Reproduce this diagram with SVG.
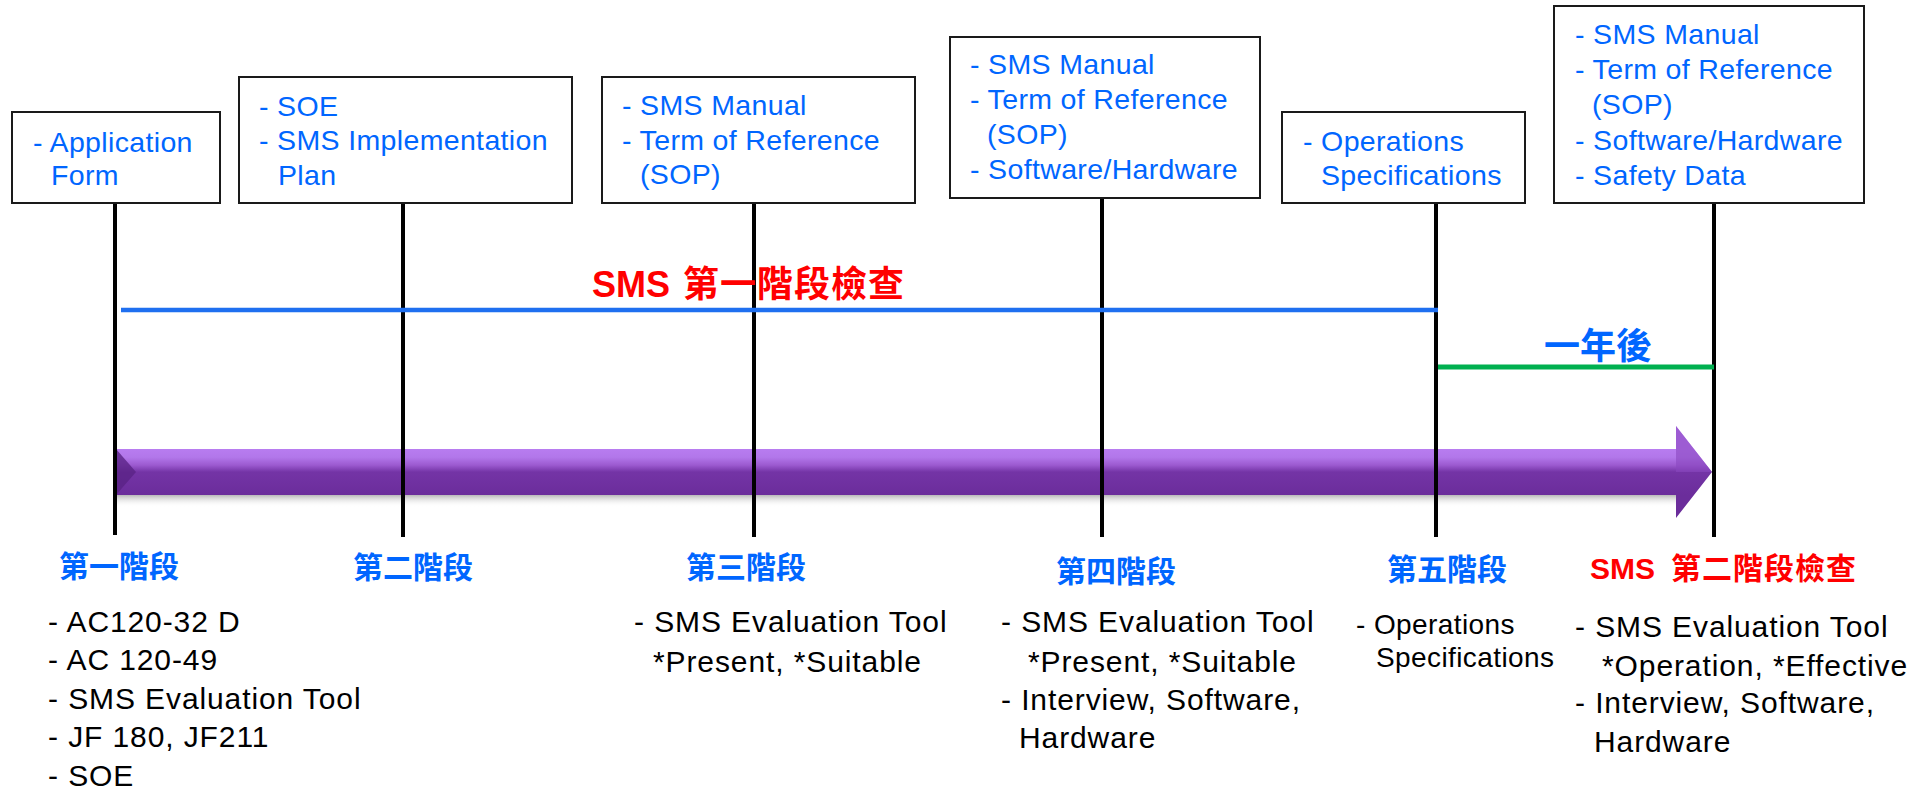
<svg xmlns="http://www.w3.org/2000/svg" width="1916" height="791" viewBox="0 0 1916 791">
<defs>
<style>
.box{fill:#fff;stroke:#1a1a1a;stroke-width:2}
.bt{font-family:"Liberation Sans",Arial,sans-serif;font-size:28.5px;letter-spacing:0.35px;fill:#0066ff}
.dt{font-family:"Liberation Sans",Arial,sans-serif;font-size:30px;letter-spacing:0.9px;fill:#000}
.dt.small{font-size:28px;letter-spacing:0.4px}
.st{font-family:"Noto Sans CJK TC","Noto Sans CJK SC",sans-serif;font-weight:bold;font-size:30px;fill:#0066ff}
.red{fill:#ff0000}
.sms{font-family:"Liberation Sans",Arial,sans-serif;font-weight:bold}
.cjk{font-family:"Noto Sans CJK TC","Noto Sans CJK SC",sans-serif;font-weight:bold}
.vl{stroke:#000;stroke-width:4;fill:none}
</style>
<linearGradient id="pg" gradientUnits="userSpaceOnUse" x1="0" y1="449" x2="0" y2="495">
<stop offset="0" stop-color="#b87cf0"/>
<stop offset="0.18" stop-color="#b277ea"/>
<stop offset="0.35" stop-color="#9c5ad0"/>
<stop offset="0.5" stop-color="#7434a6"/>
<stop offset="1" stop-color="#6b2d9b"/>
</linearGradient>
<linearGradient id="sh" x1="0" y1="0" x2="0" y2="1">
<stop offset="0" stop-color="#9a9a9a" stop-opacity="0.7"/>
<stop offset="1" stop-color="#ffffff" stop-opacity="0"/>
</linearGradient>
</defs>
<rect width="1916" height="791" fill="#fff"/>

<g id="timeline-arrow">
<rect x="116" y="495" width="1560" height="12" fill="url(#sh)"/>
<path d="M115,449 L1676,449 L1676,426 L1712,472 L1676,518 L1676,495 L115,495 Z" fill="url(#pg)"/>
<path d="M1676,426 L1712,472 L1676,472 Z" fill="#8a48c0" opacity="0.6"/>
<path d="M116,449 L136,472 L116,495 Z" fill="#5a2386" opacity="0.8"/>
</g>

<g id="connectors">
<line class="vl" x1="115" y1="203" x2="115" y2="535"/>
<line class="vl" x1="403" y1="203" x2="403" y2="537"/>
<line class="vl" x1="754" y1="203" x2="754" y2="537"/>
<line class="vl" x1="1102" y1="198" x2="1102" y2="537"/>
<line class="vl" x1="1436" y1="203" x2="1436" y2="537"/>
<line class="vl" x1="1714" y1="203" x2="1714" y2="537"/>
<line x1="121" y1="310" x2="1438" y2="310" stroke="#1f6ff0" stroke-width="4.5"/>
<line x1="1438" y1="367" x2="1714" y2="367" stroke="#00b050" stroke-width="5"/>
</g>

<g id="phase1-doc">
<rect class="box" x="12" y="112" width="208" height="91"/>
<text class="bt"><tspan x="33" y="152">- Application</tspan><tspan x="51" y="185">Form</tspan></text>
</g>
<g id="phase2-doc">
<rect class="box" x="239" y="77" width="333" height="126"/>
<text class="bt"><tspan x="259" y="116">- SOE</tspan><tspan x="259" y="150">- SMS Implementation</tspan><tspan x="278" y="185">Plan</tspan></text>
</g>
<g id="phase3-doc">
<rect class="box" x="602" y="77" width="313" height="126"/>
<text class="bt"><tspan x="622" y="115">- SMS Manual</tspan><tspan x="622" y="150">- Term of Reference</tspan><tspan x="640" y="184">(SOP)</tspan></text>
</g>
<g id="phase4-doc">
<rect class="box" x="950" y="37" width="310" height="161"/>
<text class="bt"><tspan x="970" y="74">- SMS Manual</tspan><tspan x="970" y="109">- Term of Reference</tspan><tspan x="987" y="144">(SOP)</tspan><tspan x="970" y="179">- Software/Hardware</tspan></text>
</g>
<g id="phase5-doc">
<rect class="box" x="1282" y="112" width="243" height="91"/>
<text class="bt"><tspan x="1303" y="151">- Operations</tspan><tspan x="1321" y="185">Specifications</tspan></text>
</g>
<g id="phase6-doc">
<rect class="box" x="1554" y="6" width="310" height="197"/>
<text class="bt"><tspan x="1575" y="44">- SMS Manual</tspan><tspan x="1575" y="79">- Term of Reference</tspan><tspan x="1592" y="114">(SOP)</tspan><tspan x="1575" y="150">- Software/Hardware</tspan><tspan x="1575" y="185">- Safety Data</tspan></text>
</g>

<g id="title-phase1-check">
<text class="red" y="297"><tspan class="sms" x="592" font-size="36">SMS</tspan><tspan class="cjk" x="683" font-size="36" letter-spacing="1">第一階段檢查</tspan></text>
</g>
<g id="label-one-year">
<text class="cjk" x="1544" y="359" font-size="36" fill="#0066ff">一年後</text>
</g>

<g id="stage1">
<text class="st" x="59" y="577">第一階段</text>
<text class="dt"><tspan x="48" y="632">- AC120-32 D</tspan><tspan x="48" y="670">- AC 120-49</tspan><tspan x="48" y="709">- SMS Evaluation Tool</tspan><tspan x="48" y="747">- JF 180, JF211</tspan><tspan x="48" y="786">- SOE</tspan></text>
</g>
<g id="stage2">
<text class="st" x="353" y="578">第二階段</text>
</g>
<g id="stage3">
<text class="st" x="686" y="578">第三階段</text>
<text class="dt"><tspan x="634" y="632">- SMS Evaluation Tool</tspan><tspan x="653" y="672">*Present, *Suitable</tspan></text>
</g>
<g id="stage4">
<text class="st" x="1056" y="582">第四階段</text>
<text class="dt"><tspan x="1001" y="632">- SMS Evaluation Tool</tspan><tspan x="1028" y="672">*Present, *Suitable</tspan><tspan x="1001" y="710">- Interview, Software,</tspan><tspan x="1019" y="748">Hardware</tspan></text>
</g>
<g id="stage5">
<text class="st" x="1387" y="580">第五階段</text>
<text class="dt small"><tspan x="1356" y="634">- Operations</tspan><tspan x="1376" y="667">Specifications</tspan></text>
</g>
<g id="stage6">
<text class="red" y="579"><tspan class="sms" x="1590" font-size="30">SMS</tspan><tspan class="cjk" x="1671" font-size="30" letter-spacing="1">第二階段檢查</tspan></text>
<text class="dt"><tspan x="1575" y="637">- SMS Evaluation Tool</tspan><tspan x="1602" y="676">*Operation, *Effective</tspan><tspan x="1575" y="713">- Interview, Software,</tspan><tspan x="1594" y="752">Hardware</tspan></text>
</g>
</svg>
